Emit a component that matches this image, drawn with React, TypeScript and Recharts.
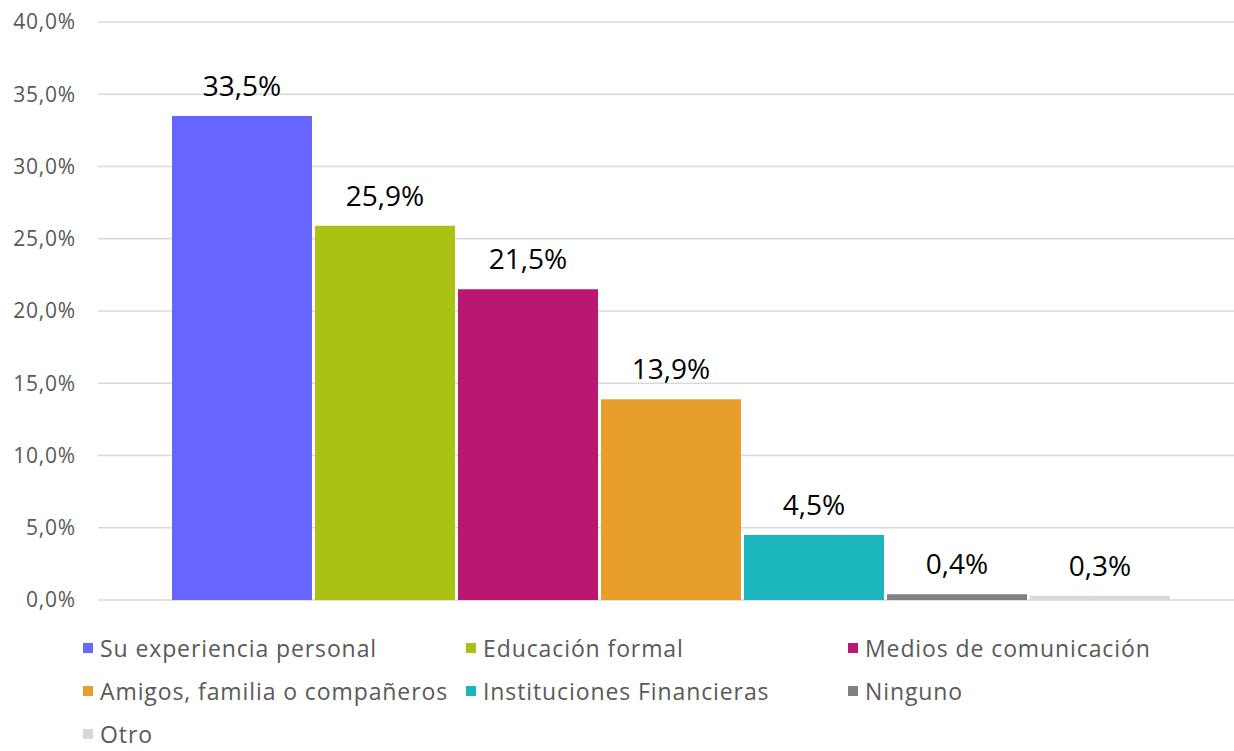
import { BarChart, Bar, XAxis, YAxis, CartesianGrid, Legend, LabelList } from 'recharts'

const categories = [
  'Su experiencia personal',
  'Educación formal',
  'Medios de comunicación',
  'Amigos, familia o compañeros',
  'Instituciones Financieras',
  'Ninguno',
  'Otro',
]
const values = [33.5, 25.9, 21.5, 13.9, 4.5, 0.4, 0.3]
const colors = ['#6666FF', '#A9C213', '#BA1770', '#E89E2A', '#1BB5BE', '#808080', '#D9D9D9']
const yTicks = [0, 5, 10, 15, 20, 25, 30, 35, 40]

const row: Record<string, number | string> = { name: 'total' }
categories.forEach((c, i) => {
  row[`s${i}`] = values[i]
})
const data = [row]

const FONT = '"Open Sans", sans-serif'
const fmt = (v: number) => `${v.toFixed(1).replace('.', ',')}%`

function LegendGrid() {
  return (
    <div
      style={{
        display: 'grid',
        gridTemplateColumns: '383px 382px 382px',
        paddingLeft: 83,
        paddingTop: 36,
        rowGap: 19,
        fontFamily: FONT,
        fontSize: 23,
        letterSpacing: 0.9,
        color: '#595959',
        lineHeight: '24px',
      }}
    >
      {categories.map((c, i) => (
        <div key={c} style={{ display: 'flex', alignItems: 'center', whiteSpace: 'nowrap' }}>
          <span style={{ width: 10, height: 10, background: colors[i], marginRight: 7, display: 'inline-block', flex: 'none' }} />
          {c}
        </div>
      ))}
    </div>
  )
}

export default function App() {
  return (
    <div style={{ width: 1234, height: 751, background: '#fff', overflow: 'hidden' }}>
      <style>{'body{margin:0}'}</style>
      <BarChart
        width={1234}
        height={751}
        data={data}
        margin={{ top: 22, right: 0, left: 0, bottom: 0 }}
        barGap={3}
        barCategoryGap={61}
      >
        <CartesianGrid vertical={false} stroke="#d9d9d9" strokeWidth={1.5} />
        <XAxis dataKey="name" hide padding={{ left: 13, right: 0 }} />
        <YAxis
          domain={[0, 40]}
          ticks={yTicks}
          tickFormatter={fmt}
          axisLine={false}
          tickLine={false}
          tickSize={0}
          tickMargin={22}
          width={98}
          tick={{ fill: '#595959', fontSize: 21, fontFamily: FONT, letterSpacing: 0.8 }}
        />
        <Legend verticalAlign="bottom" height={151} content={() => <LegendGrid />} />
        {categories.map((c, i) => (
          <Bar key={c} dataKey={`s${i}`} name={c} fill={colors[i]} isAnimationActive={false}>
            <LabelList
              dataKey={`s${i}`}
              position="top"
              offset={20}
              formatter={(v: number) => fmt(v)}
              style={{ fill: '#000', fontSize: 28, fontFamily: FONT }}
            />
          </Bar>
        ))}
      </BarChart>
    </div>
  )
}
